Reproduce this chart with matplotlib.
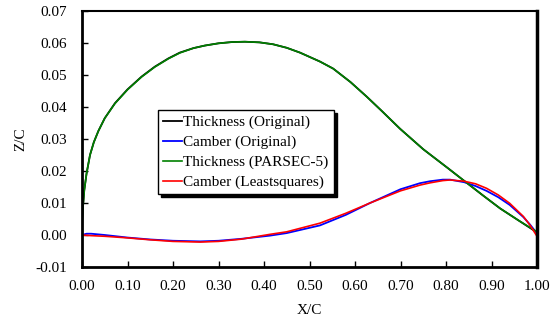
import matplotlib
matplotlib.use("Agg")
import matplotlib.pyplot as plt
import numpy as np

plt.rcParams['font.family'] = ['Liberation Serif', 'DejaVu Serif']

# thickness distribution
thick_x = [0.0, 0.0005, 0.002, 0.005, 0.01, 0.0176, 0.026, 0.036, 0.05, 0.0725,
           0.10, 0.131, 0.16, 0.19, 0.215, 0.245, 0.27, 0.30, 0.33, 0.358,
           0.39, 0.42, 0.45, 0.479, 0.523, 0.552, 0.59, 0.626, 0.66, 0.699,
           0.75, 0.805, 0.842, 0.88, 0.919, 0.96, 1.0]
thick_orig = [0.0, 0.0045, 0.0085, 0.0140, 0.0192, 0.0250, 0.0290, 0.0325, 0.0365, 0.0412,
              0.0455, 0.0495, 0.0526, 0.0552, 0.0570, 0.0584, 0.0592, 0.0599, 0.0603, 0.0604,
              0.0602, 0.0596, 0.0585, 0.0570, 0.0542, 0.0520, 0.0478, 0.0432, 0.0386, 0.0332,
              0.0268, 0.0208, 0.0167, 0.0125, 0.0083, 0.0045, 0.0008]
thick_parsec = [0.0, 0.0045, 0.0085, 0.0140, 0.0192, 0.0250, 0.0290, 0.0325, 0.0365, 0.0411,
                0.0454, 0.0494, 0.0525, 0.0551, 0.0569, 0.0584, 0.0592, 0.0599, 0.0603, 0.0604,
                0.0602, 0.0596, 0.0585, 0.0570, 0.0542, 0.0520, 0.0478, 0.0432, 0.0386, 0.0332,
                0.0268, 0.0208, 0.0167, 0.0125, 0.0083, 0.0045, 0.0010]

# camber lines
camb_x = [0.0, 0.01, 0.02, 0.05, 0.10, 0.15, 0.20, 0.26, 0.30, 0.35,
          0.413, 0.45, 0.523, 0.58, 0.633, 0.70, 0.743, 0.765, 0.793, 0.809,
          0.84, 0.865, 0.889, 0.915, 0.94, 0.97, 0.985, 1.0]
camb_orig = [0.0, 0.0004, 0.0004, 0.0, -0.0008, -0.0014, -0.0018, -0.0020, -0.0018, -0.0012,
             -0.0002, 0.0006, 0.0030, 0.0063, 0.0100, 0.0143, 0.0162, 0.0168, 0.0173, 0.0173,
             0.0165, 0.0153, 0.0138, 0.0118, 0.0094, 0.0056, 0.0032, 0.0005]
camb_lsq = [0.0, -0.0001, -0.0002, -0.0004, -0.0009, -0.0015, -0.0020, -0.0022, -0.0020, -0.0013,
            0.0002, 0.0010, 0.0037, 0.0068, 0.0100, 0.0138, 0.0156, 0.0163, 0.0170, 0.0172,
            0.0168, 0.0160, 0.0146, 0.0125, 0.0099, 0.0058, 0.0030, -0.0004]

x_ticks = np.arange(0, 1.01, 0.1)
y_ticks = np.arange(-0.01, 0.0701, 0.01)

fig = plt.figure(figsize=(5.59, 3.2), dpi=100)
ax = fig.add_axes([82/559, 1-267/320, 455/559, 256/320])

ax.plot(thick_x, thick_orig, color='black', lw=1.3, label='Thickness (Original)')
ax.plot(camb_x, camb_orig, color='#0000FF', lw=1.3, label='Camber (Original)')
ax.plot(thick_x, thick_parsec, color='#008000', lw=1.2, label='Thickness (PARSEC-5)')
ax.plot(camb_x, camb_lsq, color='#FF0000', lw=1.2, label='Camber (Leastsquares)')

ax.set_xlim(0, 1.0)
ax.set_ylim(-0.01, 0.07)
ax.set_xticks(x_ticks)
ax.set_yticks(y_ticks)
ax.set_xticklabels(['%.2f' % v for v in x_ticks])
ax.set_yticklabels(['%.2f' % v for v in y_ticks])
ax.tick_params(direction='in', length=4, width=1, labelsize=11, colors='black')
ax.tick_params(axis='x', pad=9)
ax.tick_params(axis='y', pad=11)

for side in ['left', 'bottom']:
    ax.spines[side].set_linewidth(2)
ax.spines['top'].set_linewidth(1.5)
ax.spines['right'].set_linewidth(2.5)

ax.set_xlabel('X/C', fontsize=11)
ax.set_ylabel('Z/C', fontsize=11)
ax.xaxis.set_label_coords(0.5, (267-304)/256)
ax.yaxis.set_label_coords((27-82)/455, 0.5)

leg = ax.legend(loc='upper left', bbox_to_anchor=((158-82)/455, (267-110)/256),
                borderaxespad=0, fontsize=11, fancybox=False, edgecolor='black',
                framealpha=1, handlelength=1.2, handletextpad=0.1, labelspacing=0.4,
                borderpad=0.35, shadow={'color': 'black', 'alpha': 1})
leg.get_frame().set_linewidth(1)

fig.savefig('out.png', dpi=100)
